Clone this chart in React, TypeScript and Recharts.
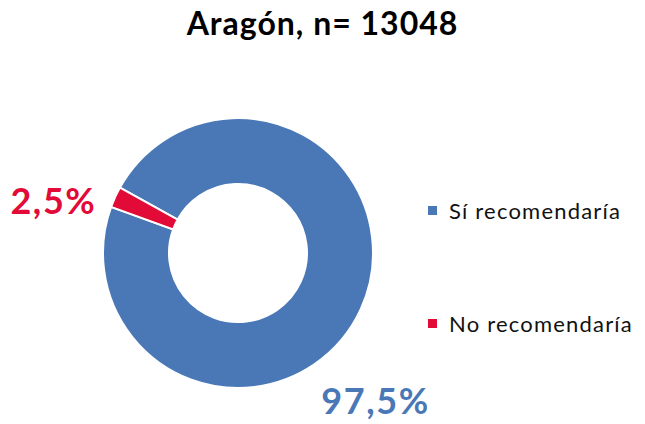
import { PieChart, Pie, Cell, Legend } from "recharts";

const categories = ["Sí recomendaría", "No recomendaría"];
const values = [97.5, 2.5];
const valueLabels = ["97,5%", "2,5%"];
const colors = ["#4A78B7", "#E20A37"];

const title = "Aragón, n= 13048";

const data = categories.map((name, i) => ({ name, value: values[i] }));

// where Excel dropped each percentage label (polar, from chart centre)
const labelPolar = [
  { angle: -46.8, dist: 201 },
  { angle: 164, dist: 192 },
];

const RAD = Math.PI / 180;

function renderLabel(props: any) {
  const { cx, cy, index } = props;
  const p = labelPolar[index];
  const x = cx + p.dist * Math.cos(p.angle * RAD);
  const y = cy - p.dist * Math.sin(p.angle * RAD);
  return (
    <text
      x={x}
      y={y}
      fill={colors[index]}
      textAnchor="middle"
      dominantBaseline="central"
      style={{ fontFamily: "Lato", fontWeight: 700, fontSize: 36, letterSpacing: 1.6 }}
    >
      {valueLabels[index]}
    </text>
  );
}

function LegendContent() {
  return (
    <div style={{ fontFamily: "Lato", fontSize: 22, letterSpacing: 1.2, color: "#111" }}>
      {categories.map((c, i) => (
        <div
          key={c}
          style={{ display: "flex", alignItems: "center", height: 28, marginBottom: i === 0 ? 85 : 0 }}
        >
          <span style={{ width: 9, height: 9, background: colors[i], marginRight: 12, display: "inline-block" }} />
          <span>{c}</span>
        </div>
      ))}
    </div>
  );
}

export default function App() {
  return (
    <div style={{ position: "absolute", left: 0, top: 0, width: 645, height: 424, background: "#fff" }}>
      <div
        style={{
          position: "absolute",
          left: 0,
          top: 3,
          width: 645,
          textAlign: "center",
          fontFamily: "Lato",
          fontWeight: 700,
          fontSize: 32,
          letterSpacing: 1,
          color: "#000",
        }}
      >
        {title}
      </div>
      <PieChart width={645} height={424} margin={{ top: 0, right: 0, bottom: 0, left: 0 }}>
        <Pie
          data={data}
          dataKey="value"
          nameKey="name"
          cx={238}
          cy={253}
          innerRadius={69}
          outerRadius={135}
          startAngle={151}
          endAngle={-209}
          stroke="#fff"
          strokeWidth={2}
          label={renderLabel}
          labelLine={false}
          isAnimationActive={false}
        >
          {data.map((d, i) => (
            <Cell key={d.name} fill={colors[i]} />
          ))}
        </Pie>
        <Legend
          layout="vertical"
          align="right"
          verticalAlign="top"
          content={<LegendContent />}
          wrapperStyle={{ left: 428, top: 196, width: 217 }}
        />
      </PieChart>
    </div>
  );
}
